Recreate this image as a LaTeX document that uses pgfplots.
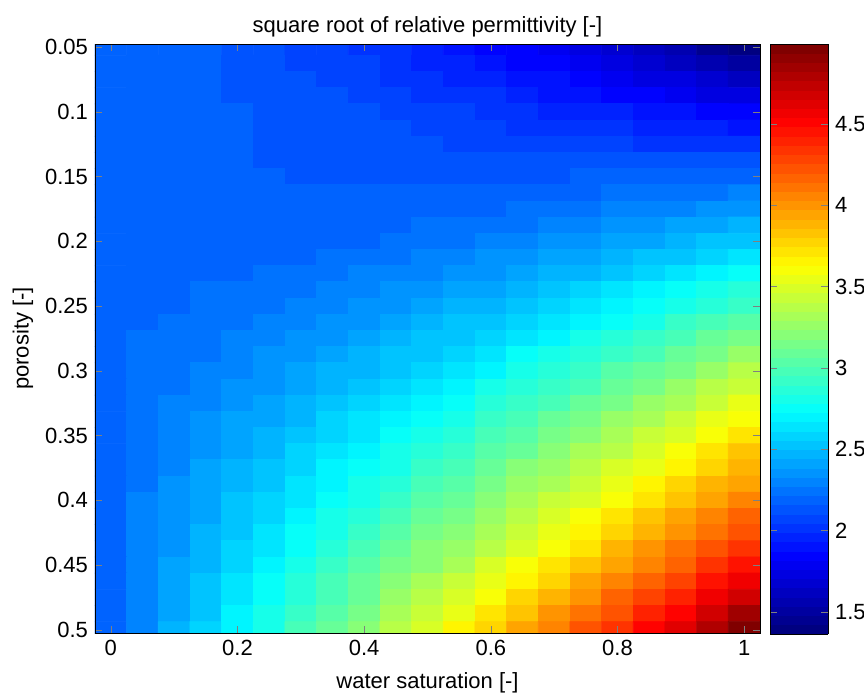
\documentclass[border=0pt]{standalone}
\usepackage{fontspec}
\setmainfont{Liberation Sans}
\usepackage{pgfplots}
\pgfplotsset{compat=1.18}
\usepackage{pgfplotstable}
\pgfplotsset{colormap={jetm}{rgb255(0cm)=(0,0,128); rgb255(1cm)=(0,0,255); rgb255(3cm)=(0,255,255); rgb255(5cm)=(255,255,0); rgb255(7cm)=(255,0,0); rgb255(8cm)=(128,0,0)}}
\pgfplotsset{colormap={jet64}{samples of colormap=(64 of jetm)}}
% x = water saturation, y = porosity, v = square root of relative permittivity
\pgfplotstableread{
x y v
0 0.05 2.2
0.05 0.05 2.189
0.1 0.05 2.176
0.15 0.05 2.159
0.2 0.05 2.139
0.25 0.05 2.116
0.3 0.05 2.090
0.35 0.05 2.061
0.4 0.05 2.029
0.45 0.05 1.993
0.5 0.05 1.955
0.55 0.05 1.913
0.6 0.05 1.869
0.65 0.05 1.821
0.7 0.05 1.770
0.75 0.05 1.716
0.8 0.05 1.659
0.85 0.05 1.599
0.9 0.05 1.536
0.95 0.05 1.469
1 0.05 1.4
0 0.0625 2.2
0.05 0.0625 2.19
0.1 0.0625 2.178
0.15 0.0625 2.163
0.2 0.0625 2.145
0.25 0.0625 2.124
0.3 0.0625 2.101
0.35 0.0625 2.076
0.4 0.0625 2.048
0.45 0.0625 2.017
0.5 0.0625 1.983
0.55 0.0625 1.947
0.6 0.0625 1.909
0.65 0.0625 1.867
0.7 0.0625 1.823
0.75 0.0625 1.777
0.8 0.0625 1.728
0.85 0.0625 1.676
0.9 0.0625 1.622
0.95 0.0625 1.565
1 0.0625 1.505
0 0.075 2.2
0.05 0.075 2.191
0.1 0.075 2.179
0.15 0.075 2.166
0.2 0.075 2.150
0.25 0.075 2.132
0.3 0.075 2.112
0.35 0.075 2.090
0.4 0.075 2.066
0.45 0.075 2.040
0.5 0.075 2.011
0.55 0.075 1.981
0.6 0.075 1.948
0.65 0.075 1.913
0.7 0.075 1.876
0.75 0.075 1.837
0.8 0.075 1.796
0.85 0.075 1.753
0.9 0.075 1.707
0.95 0.075 1.660
1 0.075 1.61
0 0.0875 2.2
0.05 0.0875 2.192
0.1 0.0875 2.181
0.15 0.0875 2.169
0.2 0.0875 2.156
0.25 0.0875 2.14
0.3 0.0875 2.123
0.35 0.0875 2.105
0.4 0.0875 2.085
0.45 0.0875 2.063
0.5 0.0875 2.04
0.55 0.0875 2.015
0.6 0.0875 1.988
0.65 0.0875 1.959
0.7 0.0875 1.929
0.75 0.0875 1.898
0.8 0.0875 1.865
0.85 0.0875 1.83
0.9 0.0875 1.793
0.95 0.0875 1.755
1 0.0875 1.715
0 0.1 2.2
0.05 0.1 2.192
0.1 0.1 2.183
0.15 0.1 2.172
0.2 0.1 2.161
0.25 0.1 2.148
0.3 0.1 2.134
0.35 0.1 2.119
0.4 0.1 2.103
0.45 0.1 2.086
0.5 0.1 2.068
0.55 0.1 2.048
0.6 0.1 2.027
0.65 0.1 2.005
0.7 0.1 1.982
0.75 0.1 1.958
0.8 0.1 1.933
0.85 0.1 1.906
0.9 0.1 1.879
0.95 0.1 1.850
1 0.1 1.82
0 0.1125 2.2
0.05 0.1125 2.192
0.1 0.1125 2.183
0.15 0.1125 2.172
0.2 0.1125 2.162
0.25 0.1125 2.151
0.3 0.1125 2.14
0.35 0.1125 2.127
0.4 0.1125 2.115
0.45 0.1125 2.102
0.5 0.1125 2.088
0.55 0.1125 2.073
0.6 0.1125 2.058
0.65 0.1125 2.043
0.7 0.1125 2.027
0.75 0.1125 2.01
0.8 0.1125 1.993
0.85 0.1125 1.975
0.9 0.1125 1.957
0.95 0.1125 1.937
1 0.1125 1.918
0 0.125 2.2
0.05 0.125 2.191
0.1 0.125 2.182
0.15 0.125 2.172
0.2 0.125 2.163
0.25 0.125 2.154
0.3 0.125 2.145
0.35 0.125 2.135
0.4 0.125 2.126
0.45 0.125 2.117
0.5 0.125 2.108
0.55 0.125 2.098
0.6 0.125 2.089
0.65 0.125 2.080
0.7 0.125 2.071
0.75 0.125 2.061
0.8 0.125 2.052
0.85 0.125 2.043
0.9 0.125 2.034
0.95 0.125 2.024
1 0.125 2.015
0 0.1375 2.2
0.05 0.1375 2.191
0.1 0.1375 2.181
0.15 0.1375 2.172
0.2 0.1375 2.164
0.25 0.1375 2.157
0.3 0.1375 2.15
0.35 0.1375 2.143
0.4 0.1375 2.137
0.45 0.1375 2.132
0.5 0.1375 2.127
0.55 0.1375 2.122
0.6 0.1375 2.118
0.65 0.1375 2.115
0.7 0.1375 2.113
0.75 0.1375 2.11
0.8 0.1375 2.109
0.85 0.1375 2.108
0.9 0.1375 2.107
0.95 0.1375 2.107
1 0.1375 2.108
0 0.15 2.2
0.05 0.15 2.190
0.1 0.15 2.180
0.15 0.15 2.172
0.2 0.15 2.165
0.25 0.15 2.159
0.3 0.15 2.154
0.35 0.15 2.150
0.4 0.15 2.147
0.45 0.15 2.146
0.5 0.15 2.145
0.55 0.15 2.146
0.6 0.15 2.147
0.65 0.15 2.150
0.7 0.15 2.154
0.75 0.15 2.159
0.8 0.15 2.165
0.85 0.15 2.172
0.9 0.15 2.180
0.95 0.15 2.190
1 0.15 2.2
0 0.1625 2.2
0.05 0.1625 2.191
0.1 0.1625 2.182
0.15 0.1625 2.175
0.2 0.1625 2.169
0.25 0.1625 2.166
0.3 0.1625 2.163
0.35 0.1625 2.162
0.4 0.1625 2.163
0.45 0.1625 2.165
0.5 0.1625 2.168
0.55 0.1625 2.174
0.6 0.1625 2.18
0.65 0.1625 2.188
0.7 0.1625 2.198
0.75 0.1625 2.209
0.8 0.1625 2.222
0.85 0.1625 2.236
0.9 0.1625 2.252
0.95 0.1625 2.269
1 0.1625 2.288
0 0.175 2.2
0.05 0.175 2.191
0.1 0.175 2.183
0.15 0.175 2.177
0.2 0.175 2.173
0.25 0.175 2.172
0.3 0.175 2.172
0.35 0.175 2.174
0.4 0.175 2.178
0.45 0.175 2.184
0.5 0.175 2.191
0.55 0.175 2.201
0.6 0.175 2.213
0.65 0.175 2.226
0.7 0.175 2.242
0.75 0.175 2.259
0.8 0.175 2.278
0.85 0.175 2.300
0.9 0.175 2.323
0.95 0.175 2.348
1 0.175 2.375
0 0.1875 2.2
0.05 0.1875 2.191
0.1 0.1875 2.185
0.15 0.1875 2.18
0.2 0.1875 2.178
0.25 0.1875 2.178
0.3 0.1875 2.181
0.35 0.1875 2.186
0.4 0.1875 2.193
0.45 0.1875 2.203
0.5 0.1875 2.215
0.55 0.1875 2.229
0.6 0.1875 2.246
0.65 0.1875 2.264
0.7 0.1875 2.286
0.75 0.1875 2.309
0.8 0.1875 2.335
0.85 0.1875 2.364
0.9 0.1875 2.395
0.95 0.1875 2.427
1 0.1875 2.463
0 0.2 2.2
0.05 0.2 2.191
0.1 0.2 2.186
0.15 0.2 2.182
0.2 0.2 2.182
0.25 0.2 2.184
0.3 0.2 2.190
0.35 0.2 2.197
0.4 0.2 2.208
0.45 0.2 2.221
0.5 0.2 2.238
0.55 0.2 2.256
0.6 0.2 2.278
0.65 0.2 2.302
0.7 0.2 2.330
0.75 0.2 2.359
0.8 0.2 2.392
0.85 0.2 2.427
0.9 0.2 2.466
0.95 0.2 2.506
1 0.2 2.55
0 0.2125 2.2
0.05 0.2125 2.195
0.1 0.2125 2.193
0.15 0.2125 2.193
0.2 0.2125 2.197
0.25 0.2125 2.203
0.3 0.2125 2.213
0.35 0.2125 2.225
0.4 0.2125 2.24
0.45 0.2125 2.258
0.5 0.2125 2.28
0.55 0.2125 2.303
0.6 0.2125 2.33
0.65 0.2125 2.36
0.7 0.2125 2.393
0.75 0.2125 2.428
0.8 0.2125 2.467
0.85 0.2125 2.508
0.9 0.2125 2.553
0.95 0.2125 2.6
1 0.2125 2.65
0 0.225 2.2
0.05 0.225 2.198
0.1 0.225 2.2
0.15 0.225 2.204
0.2 0.225 2.212
0.25 0.225 2.222
0.3 0.225 2.236
0.35 0.225 2.253
0.4 0.225 2.272
0.45 0.225 2.295
0.5 0.225 2.321
0.55 0.225 2.350
0.6 0.225 2.382
0.65 0.225 2.418
0.7 0.225 2.456
0.75 0.225 2.497
0.8 0.225 2.542
0.85 0.225 2.589
0.9 0.225 2.640
0.95 0.225 2.693
1 0.225 2.75
0 0.2375 2.2
0.05 0.2375 2.202
0.1 0.2375 2.207
0.15 0.2375 2.215
0.2 0.2375 2.227
0.25 0.2375 2.241
0.3 0.2375 2.259
0.35 0.2375 2.281
0.4 0.2375 2.305
0.45 0.2375 2.332
0.5 0.2375 2.363
0.55 0.2375 2.397
0.6 0.2375 2.435
0.65 0.2375 2.476
0.7 0.2375 2.519
0.75 0.2375 2.566
0.8 0.2375 2.617
0.85 0.2375 2.67
0.9 0.2375 2.727
0.95 0.2375 2.787
1 0.2375 2.85
0 0.25 2.2
0.05 0.25 2.205
0.1 0.25 2.214
0.15 0.25 2.226
0.2 0.25 2.241
0.25 0.25 2.26
0.3 0.25 2.282
0.35 0.25 2.308
0.4 0.25 2.337
0.45 0.25 2.369
0.5 0.25 2.405
0.55 0.25 2.444
0.6 0.25 2.487
0.65 0.25 2.533
0.7 0.25 2.582
0.75 0.25 2.635
0.8 0.25 2.691
0.85 0.25 2.751
0.9 0.25 2.814
0.95 0.25 2.880
1 0.25 2.95
0 0.2625 2.2
0.05 0.2625 2.21
0.1 0.2625 2.224
0.15 0.2625 2.241
0.2 0.2625 2.261
0.25 0.2625 2.284
0.3 0.2625 2.311
0.35 0.2625 2.342
0.4 0.2625 2.376
0.45 0.2625 2.413
0.5 0.2625 2.454
0.55 0.2625 2.498
0.6 0.2625 2.546
0.65 0.2625 2.597
0.7 0.2625 2.651
0.75 0.2625 2.709
0.8 0.2625 2.771
0.85 0.2625 2.836
0.9 0.2625 2.904
0.95 0.2625 2.975
1 0.2625 3.05
0 0.275 2.2
0.05 0.275 2.215
0.1 0.275 2.233
0.15 0.275 2.255
0.2 0.275 2.280
0.25 0.275 2.308
0.3 0.275 2.340
0.35 0.275 2.376
0.4 0.275 2.414
0.45 0.275 2.457
0.5 0.275 2.503
0.55 0.275 2.552
0.6 0.275 2.604
0.65 0.275 2.661
0.7 0.275 2.720
0.75 0.275 2.783
0.8 0.275 2.850
0.85 0.275 2.920
0.9 0.275 2.993
0.95 0.275 3.070
1 0.275 3.15
0 0.2875 2.2
0.05 0.2875 2.22
0.1 0.2875 2.243
0.15 0.2875 2.269
0.2 0.2875 2.299
0.25 0.2875 2.332
0.3 0.2875 2.369
0.35 0.2875 2.41
0.4 0.2875 2.453
0.45 0.2875 2.501
0.5 0.2875 2.552
0.55 0.2875 2.606
0.6 0.2875 2.663
0.65 0.2875 2.725
0.7 0.2875 2.789
0.75 0.2875 2.857
0.8 0.2875 2.929
0.85 0.2875 3.004
0.9 0.2875 3.083
0.95 0.2875 3.165
1 0.2875 3.25
0 0.3 2.2
0.05 0.3 2.224
0.1 0.3 2.252
0.15 0.3 2.283
0.2 0.3 2.318
0.25 0.3 2.356
0.3 0.3 2.398
0.35 0.3 2.443
0.4 0.3 2.492
0.45 0.3 2.544
0.5 0.3 2.6
0.55 0.3 2.659
0.6 0.3 2.722
0.65 0.3 2.788
0.7 0.3 2.858
0.75 0.3 2.931
0.8 0.3 3.008
0.85 0.3 3.088
0.9 0.3 3.172
0.95 0.3 3.259
1 0.3 3.35
0 0.3125 2.2
0.05 0.3125 2.23
0.1 0.3125 2.264
0.15 0.3125 2.3
0.2 0.3125 2.341
0.25 0.3125 2.384
0.3 0.3125 2.431
0.35 0.3125 2.481
0.4 0.3125 2.535
0.45 0.3125 2.592
0.5 0.3125 2.653
0.55 0.3125 2.716
0.6 0.3125 2.784
0.65 0.3125 2.854
0.7 0.3125 2.928
0.75 0.3125 3.005
0.8 0.3125 3.086
0.85 0.3125 3.17
0.9 0.3125 3.258
0.95 0.3125 3.348
1 0.3125 3.443
0 0.325 2.2
0.05 0.325 2.236
0.1 0.325 2.275
0.15 0.325 2.317
0.2 0.325 2.363
0.25 0.325 2.412
0.3 0.325 2.464
0.35 0.325 2.519
0.4 0.325 2.578
0.45 0.325 2.640
0.5 0.325 2.705
0.55 0.325 2.773
0.6 0.325 2.845
0.65 0.325 2.920
0.7 0.325 2.998
0.75 0.325 3.079
0.8 0.325 3.164
0.85 0.325 3.252
0.9 0.325 3.343
0.95 0.325 3.437
1 0.325 3.535
0 0.3375 2.2
0.05 0.3375 2.242
0.1 0.3375 2.287
0.15 0.3375 2.335
0.2 0.3375 2.386
0.25 0.3375 2.44
0.3 0.3375 2.497
0.35 0.3375 2.558
0.4 0.3375 2.621
0.45 0.3375 2.688
0.5 0.3375 2.758
0.55 0.3375 2.831
0.6 0.3375 2.907
0.65 0.3375 2.986
0.7 0.3375 3.068
0.75 0.3375 3.154
0.8 0.3375 3.242
0.85 0.3375 3.334
0.9 0.3375 3.429
0.95 0.3375 3.527
1 0.3375 3.628
0 0.35 2.2
0.05 0.35 2.248
0.1 0.35 2.298
0.15 0.35 2.352
0.2 0.35 2.408
0.25 0.35 2.468
0.3 0.35 2.53
0.35 0.35 2.596
0.4 0.35 2.664
0.45 0.35 2.736
0.5 0.35 2.81
0.55 0.35 2.888
0.6 0.35 2.968
0.65 0.35 3.052
0.7 0.35 3.138
0.75 0.35 3.228
0.8 0.35 3.32
0.85 0.35 3.416
0.9 0.35 3.514
0.95 0.35 3.616
1 0.35 3.72
0 0.3625 2.2
0.05 0.3625 2.254
0.1 0.3625 2.31
0.15 0.3625 2.37
0.2 0.3625 2.432
0.25 0.3625 2.497
0.3 0.3625 2.564
0.35 0.3625 2.635
0.4 0.3625 2.707
0.45 0.3625 2.784
0.5 0.3625 2.862
0.55 0.3625 2.944
0.6 0.3625 3.028
0.65 0.3625 3.115
0.7 0.3625 3.205
0.75 0.3625 3.298
0.8 0.3625 3.393
0.85 0.3625 3.492
0.9 0.3625 3.592
0.95 0.3625 3.696
1 0.3625 3.803
0 0.375 2.2
0.05 0.375 2.260
0.1 0.375 2.322
0.15 0.375 2.387
0.2 0.375 2.455
0.25 0.375 2.525
0.3 0.375 2.597
0.35 0.375 2.673
0.4 0.375 2.750
0.45 0.375 2.831
0.5 0.375 2.914
0.55 0.375 2.999
0.6 0.375 3.087
0.65 0.375 3.178
0.7 0.375 3.271
0.75 0.375 3.367
0.8 0.375 3.466
0.85 0.375 3.567
0.9 0.375 3.670
0.95 0.375 3.776
1 0.375 3.885
0 0.3875 2.2
0.05 0.3875 2.266
0.1 0.3875 2.334
0.15 0.3875 2.405
0.2 0.3875 2.478
0.25 0.3875 2.554
0.3 0.3875 2.631
0.35 0.3875 2.712
0.4 0.3875 2.794
0.45 0.3875 2.879
0.5 0.3875 2.966
0.55 0.3875 3.055
0.6 0.3875 3.147
0.65 0.3875 3.242
0.7 0.3875 3.338
0.75 0.3875 3.437
0.8 0.3875 3.539
0.85 0.3875 3.643
0.9 0.3875 3.748
0.95 0.3875 3.857
1 0.3875 3.968
0 0.4 2.2
0.05 0.4 2.272
0.1 0.4 2.346
0.15 0.4 2.423
0.2 0.4 2.501
0.25 0.4 2.582
0.3 0.4 2.665
0.35 0.4 2.750
0.4 0.4 2.837
0.45 0.4 2.926
0.5 0.4 3.018
0.55 0.4 3.111
0.6 0.4 3.207
0.65 0.4 3.305
0.7 0.4 3.405
0.75 0.4 3.507
0.8 0.4 3.611
0.85 0.4 3.718
0.9 0.4 3.826
0.95 0.4 3.937
1 0.4 4.05
0 0.4125 2.2
0.05 0.4125 2.278
0.1 0.4125 2.358
0.15 0.4125 2.44
0.2 0.4125 2.524
0.25 0.4125 2.61
0.3 0.4125 2.698
0.35 0.4125 2.789
0.4 0.4125 2.881
0.45 0.4125 2.975
0.5 0.4125 3.072
0.55 0.4125 3.17
0.6 0.4125 3.271
0.65 0.4125 3.374
0.7 0.4125 3.478
0.75 0.4125 3.585
0.8 0.4125 3.694
0.85 0.4125 3.805
0.9 0.4125 3.918
0.95 0.4125 4.033
1 0.4125 4.15
0 0.425 2.2
0.05 0.425 2.284
0.1 0.425 2.369
0.15 0.425 2.457
0.2 0.425 2.546
0.25 0.425 2.638
0.3 0.425 2.731
0.35 0.425 2.827
0.4 0.425 2.924
0.45 0.425 3.024
0.5 0.425 3.125
0.55 0.425 3.229
0.6 0.425 3.334
0.65 0.425 3.442
0.7 0.425 3.551
0.75 0.425 3.663
0.8 0.425 3.776
0.85 0.425 3.892
0.9 0.425 4.009
0.95 0.425 4.129
1 0.425 4.25
0 0.4375 2.2
0.05 0.4375 2.29
0.1 0.4375 2.381
0.15 0.4375 2.474
0.2 0.4375 2.569
0.25 0.4375 2.666
0.3 0.4375 2.764
0.35 0.4375 2.865
0.4 0.4375 2.968
0.45 0.4375 3.073
0.5 0.4375 3.179
0.55 0.4375 3.288
0.6 0.4375 3.398
0.65 0.4375 3.51
0.7 0.4375 3.624
0.75 0.4375 3.741
0.8 0.4375 3.859
0.85 0.4375 3.979
0.9 0.4375 4.101
0.95 0.4375 4.225
1 0.4375 4.35
0 0.45 2.2
0.05 0.45 2.295
0.1 0.45 2.392
0.15 0.45 2.490
0.2 0.45 2.591
0.25 0.45 2.693
0.3 0.45 2.797
0.35 0.45 2.903
0.4 0.45 3.011
0.45 0.45 3.121
0.5 0.45 3.233
0.55 0.45 3.346
0.6 0.45 3.461
0.65 0.45 3.578
0.7 0.45 3.697
0.75 0.45 3.818
0.8 0.45 3.941
0.85 0.45 4.065
0.9 0.45 4.192
0.95 0.45 4.320
1 0.45 4.45
0 0.4625 2.2
0.05 0.4625 2.302
0.1 0.4625 2.406
0.15 0.4625 2.511
0.2 0.4625 2.619
0.25 0.4625 2.728
0.3 0.4625 2.839
0.35 0.4625 2.951
0.4 0.4625 3.066
0.45 0.4625 3.182
0.5 0.4625 3.3
0.55 0.4625 3.419
0.6 0.4625 3.541
0.65 0.4625 3.664
0.7 0.4625 3.789
0.75 0.4625 3.915
0.8 0.4625 4.044
0.85 0.4625 4.174
0.9 0.4625 4.306
0.95 0.4625 4.44
1 0.4625 4.575
0 0.475 2.2
0.05 0.475 2.309
0.1 0.475 2.420
0.15 0.475 2.532
0.2 0.475 2.646
0.25 0.475 2.762
0.3 0.475 2.880
0.35 0.475 2.999
0.4 0.475 3.120
0.45 0.475 3.242
0.5 0.475 3.366
0.55 0.475 3.492
0.6 0.475 3.620
0.65 0.475 3.749
0.7 0.475 3.880
0.75 0.475 4.012
0.8 0.475 4.146
0.85 0.475 4.282
0.9 0.475 4.420
0.95 0.475 4.559
1 0.475 4.7
0 0.4875 2.2
0.05 0.4875 2.316
0.1 0.4875 2.434
0.15 0.4875 2.553
0.2 0.4875 2.674
0.25 0.4875 2.797
0.3 0.4875 2.921
0.35 0.4875 3.047
0.4 0.4875 3.174
0.45 0.4875 3.303
0.5 0.4875 3.433
0.55 0.4875 3.565
0.6 0.4875 3.699
0.65 0.4875 3.834
0.7 0.4875 3.971
0.75 0.4875 4.109
0.8 0.4875 4.249
0.85 0.4875 4.391
0.9 0.4875 4.534
0.95 0.4875 4.679
1 0.4875 4.825
0 0.5 2.2
0.05 0.5 2.323
0.1 0.5 2.448
0.15 0.5 2.574
0.2 0.5 2.702
0.25 0.5 2.831
0.3 0.5 2.962
0.35 0.5 3.094
0.4 0.5 3.228
0.45 0.5 3.363
0.5 0.5 3.5
0.55 0.5 3.638
0.6 0.5 3.778
0.65 0.5 3.919
0.7 0.5 4.062
0.75 0.5 4.206
0.8 0.5 4.352
0.85 0.5 4.499
0.9 0.5 4.648
0.95 0.5 4.798
1 0.5 4.95
}\datatable
\begin{document}
\begin{tikzpicture}
\path[use as bounding box] (0,0) rectangle (432pt,348.5pt);
\begin{axis}[
  at={(47.5pt,32pt)}, anchor=south west,
  scale only axis, width=332.5pt, height=294.5pt,
  xmin=-0.025, xmax=1.025, ymin=0.0475, ymax=0.5025,
  y dir=reverse,
  enlargelimits=false,
  tick align=inside, major tick length=3.5pt,
  xtick={0,0.2,0.4,0.6,0.8,1},
  ytick={0.05,0.1,0.15,0.2,0.25,0.3,0.35,0.4,0.45,0.5},
  yticklabel style={/pgf/number format/fixed,/pgf/number format/precision=2},
  xticklabel style={/pgf/number format/fixed,/pgf/number format/precision=2},
  /pgf/number format/assume math mode=true,
  every tick label/.append style={font=\fontsize{11}{13}\selectfont},
  title={square root of relative permittivity [-]},
  title style={at={(0.5,1.0085)}, anchor=center, font=\fontsize{11}{13}\selectfont},
  xlabel={water saturation [-]},
  xlabel style={at={(0.5,-0.0849)}, anchor=center, font=\fontsize{11}{13}\selectfont},
  ylabel={porosity [-]},
  ylabel style={at={(-0.1083,0.5)}, anchor=center, font=\fontsize{11}{13}\selectfont},
  colormap name=jet64,
  colormap access=piecewise constant,
  point meta min=1.365, point meta max=4.99,
  colorbar,
  colorbar style={
    at={(parent axis.north east)}, anchor=north west, xshift=-3.5pt,
    scale only axis, width=29pt, height=295pt,
    ytick={1.5,2,2.5,3,3.5,4,4.5},
    tick align=inside, major tick length=3.5pt,
    ytick pos=both, yticklabel pos=right,
    /pgf/number format/assume math mode=true,
    yticklabel style={font=\fontsize{11}{13}\selectfont,/pgf/number format/fixed,/pgf/number format/precision=1},
  },
  axis on top,
]
\addplot[matrix plot*, mesh/cols=21, point meta=explicit] table[x=x, y=y, meta=v] {\datatable};
\end{axis}
\end{tikzpicture}
\end{document}
